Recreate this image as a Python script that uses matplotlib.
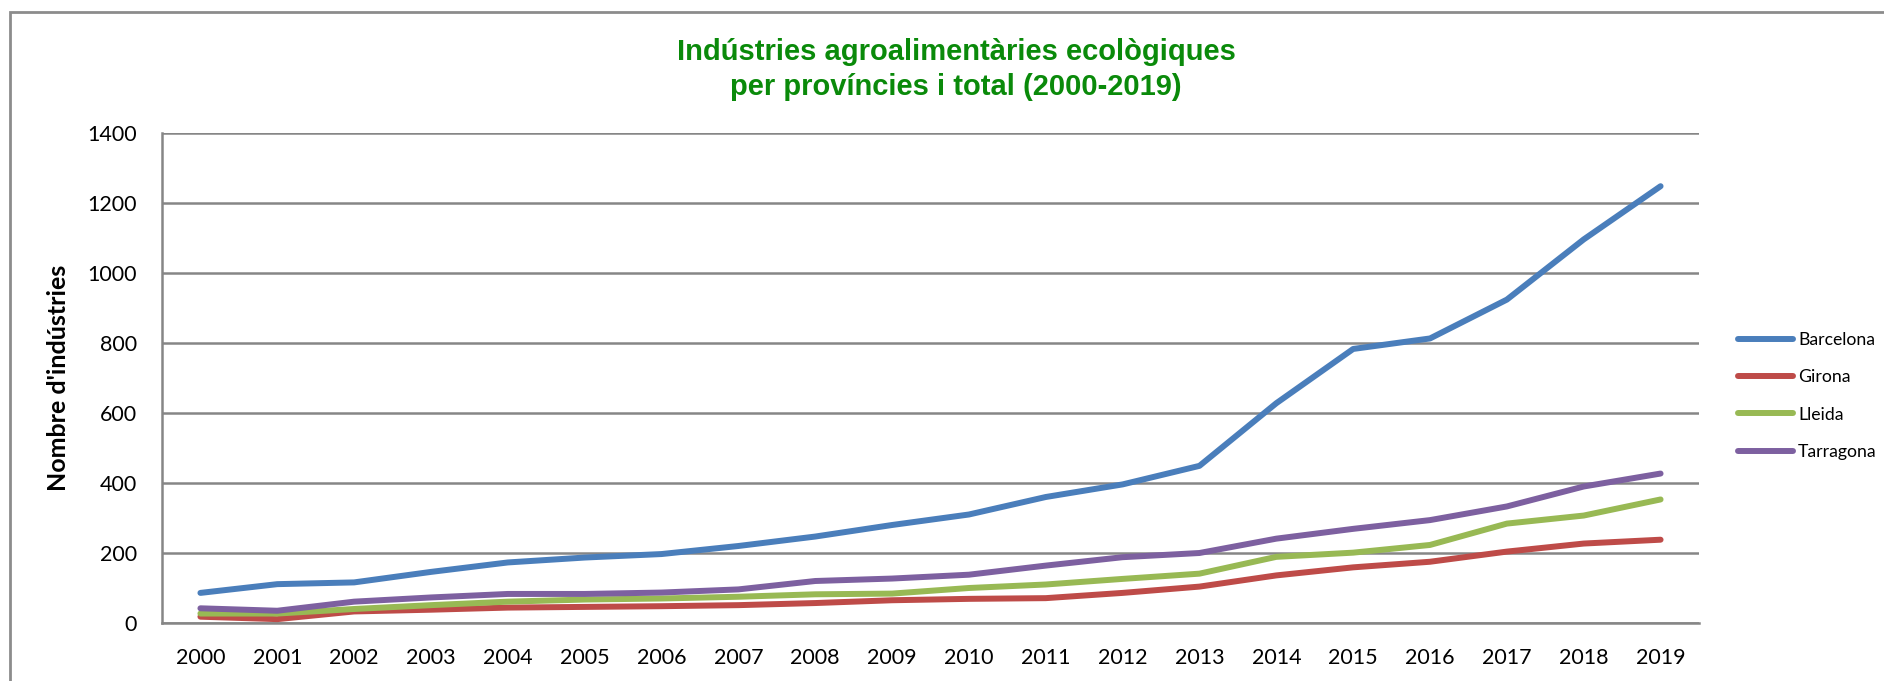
import matplotlib
matplotlib.use("Agg")
import matplotlib.pyplot as plt
from matplotlib.patches import Rectangle

years = [str(y) for y in range(2000, 2020)]
barcelona = [86, 111, 116, 146, 173, 187, 197, 220, 247, 280, 310, 360, 396, 449, 628, 783, 813, 924, 1096, 1248]
girona = [18, 11, 33, 38, 44, 46, 48, 51, 57, 65, 69, 71, 86, 104, 136, 159, 175, 204, 227, 238]
lleida = [27, 27, 40, 51, 61, 67, 70, 75, 82, 84, 100, 110, 126, 141, 189, 201, 223, 284, 307, 353]
tarragona = [42, 35, 61, 73, 83, 83, 87, 96, 120, 127, 138, 164, 188, 200, 241, 269, 294, 333, 390, 427]
series_names = ["Barcelona", "Girona", "Lleida", "Tarragona"]
colors = ["#4A7EBB", "#BE4B48", "#98B954", "#7D60A0"]
yticks = [0, 200, 400, 600, 800, 1000, 1200, 1400]

W, H = 1884, 681
fig = plt.figure(figsize=(W / 100, H / 100), dpi=100)
fig.patch.set_facecolor("white")

# outer chart border (top and left visible, right/bottom cut off)
fig.patches.append(Rectangle((9.5 / W, -0.1), 1.2, 1 - 12 / H + 0.1, transform=fig.transFigure,
                             fill=False, edgecolor="#8c8c8c", linewidth=2.0, zorder=0))

ax = fig.add_axes([162 / W, 1 - 623 / H, (1699 - 162) / W, (623 - 133) / H])
x = list(range(len(years)))
for vals, name, c in zip([barcelona, girona, lleida, tarragona], series_names, colors):
    ax.plot(x, vals, color=c, lw=4.3, solid_capstyle="round", solid_joinstyle="round", label=name, zorder=3)

ax.set_xlim(-0.5, len(years) - 0.5)
ax.set_ylim(0, 1400)
ax.set_yticks(yticks)
ax.set_xticks(x)
ax.set_xticklabels(years)
ax.yaxis.grid(True, color="#868686", lw=1.8, zorder=1)
ax.set_axisbelow(True)
for s in ["top", "right"]:
    ax.spines[s].set_visible(False)
for s in ["left", "bottom"]:
    ax.spines[s].set_color("#868686")
    ax.spines[s].set_linewidth(1.8)
ax.tick_params(axis="both", length=0, labelsize=15.5, pad=18)
for lab in ax.get_xticklabels() + ax.get_yticklabels():
    lab.set_fontfamily("Lato")

fig.text(956 / W, 1 - 52 / H, "Indústries agroalimentàries ecològiques", ha="center", va="center",
         fontsize=21, fontweight="bold", color="#0A8A0A", family="Liberation Sans")
fig.text(956 / W, 1 - 87 / H, "per províncies i total (2000-2019)", ha="center", va="center",
         fontsize=21, fontweight="bold", color="#0A8A0A", family="Liberation Sans")
fig.text(58 / W, 1 - 378 / H, "Nombre d'indústries", rotation=90, ha="center", va="center",
         fontsize=18, fontweight="bold", family="Lato")

leg = ax.legend(loc="center left", bbox_to_anchor=(1738 / W, 1 - 396 / H), bbox_transform=fig.transFigure,
                frameon=False, borderpad=0, borderaxespad=0, handlelength=3.1, handletextpad=0.3,
                labelspacing=1.2, prop={"family": "Lato", "size": 12.7})
for line in leg.get_lines():
    line.set_linewidth(4.3)
    line.set_solid_capstyle("round")

fig.savefig("out.png", dpi=100)
